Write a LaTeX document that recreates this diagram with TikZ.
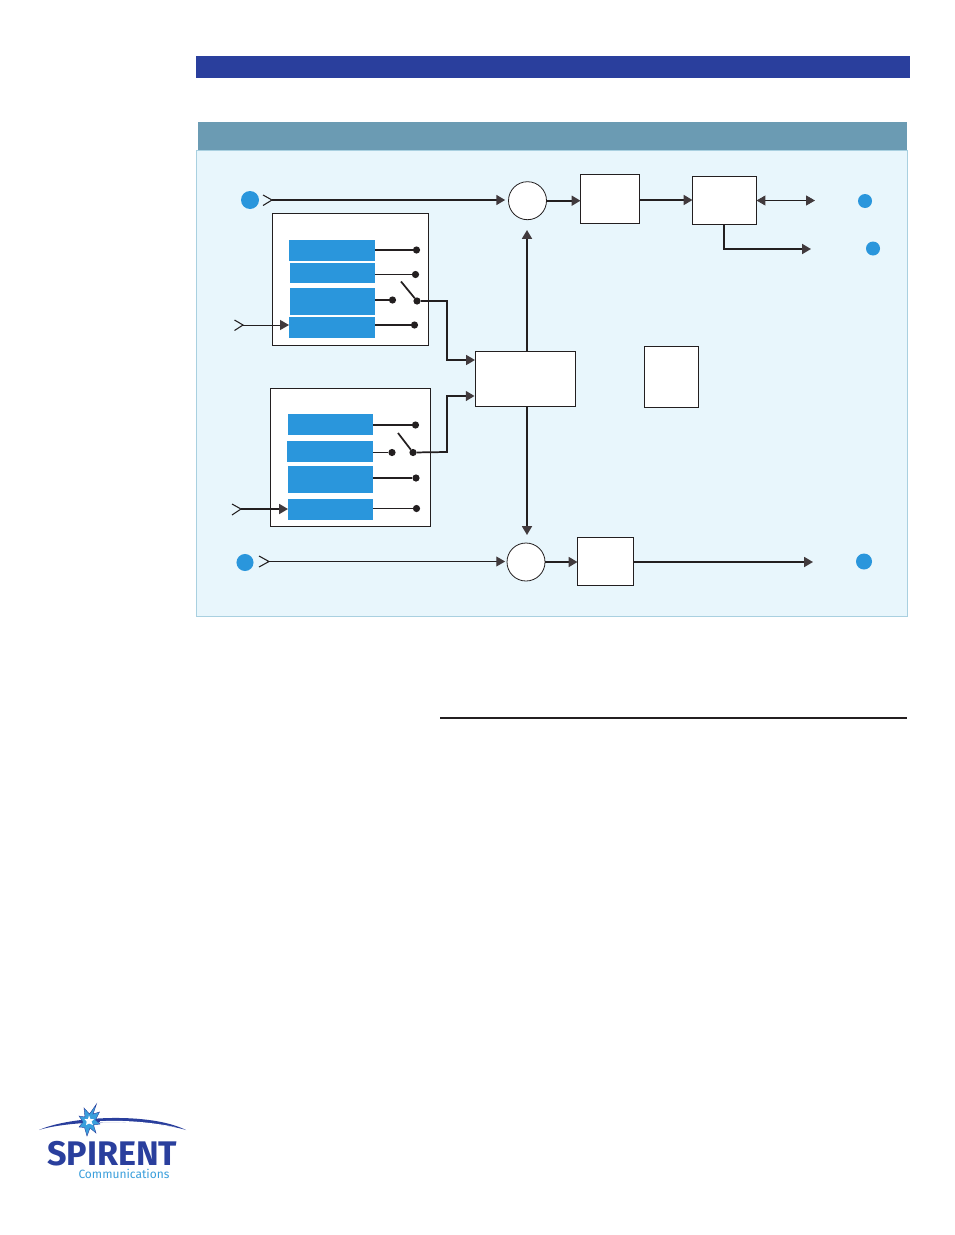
\documentclass[tikz,border=0pt]{standalone}
\usepackage{fontspec}
\setmainfont{Fira Sans}
\newfontfamily\logofont{Fira Sans}
\usetikzlibrary{arrows.meta}
\definecolor{barblue}{HTML}{2A3F9D}
\definecolor{headteal}{HTML}{6B9BB3}
\definecolor{panelfill}{HTML}{E8F6FC}
\definecolor{panelline}{HTML}{A9D0E0}
\definecolor{inkdark}{HTML}{231F20}
\definecolor{tipdark}{HTML}{413A3D}
\definecolor{fifoblue}{HTML}{2A96DC}
\definecolor{logolight}{HTML}{3A9FDC}
\tikzset{
  x=0.75pt,y=-0.75pt,
  plain/.style={inner sep=0pt,outer sep=0pt},
  solidbar/.style={plain,fill=barblue},
  headbar/.style={plain,fill=headteal},
  panel/.style={plain,fill=panelfill,draw=panelline,line width=0.6pt},
  whitebox/.style={plain,fill=white,draw=inkdark,line width=0.75pt},
  fifo/.style={plain,fill=fifoblue},
  mixer/.style={plain,circle,fill=white,draw=inkdark,line width=0.6pt,minimum size=28.5pt},
  port/.style={plain,circle,fill=fifoblue},
  contact/.style={plain,circle,fill=inkdark,minimum size=5.4pt},
  thick line/.style={draw=inkdark,line width=1.3pt},
  thin line/.style={draw=inkdark,line width=0.65pt},
  arrowed/.style={-{Triangle[length=6.6pt,width=7.4pt,color=tipdark]}},
  chevron/.style={draw=inkdark,line width=0.8pt},
}
\newcommand{\rectnode}[6]{\node[#1,minimum width={(#5-#3)*0.75pt},minimum height={(#6-#4)*0.75pt}] (#2) at ({(#3+#5)/2},{(#4+#6)/2}) {};}
\begin{document}
\begin{tikzpicture}
\useasboundingbox (0,0) rectangle (954,1235);
\fill[white] (0,0) rectangle (954,1235);
% page furniture
\rectnode{solidbar}{topbar}{196}{56}{910}{78}
\rectnode{panel}{panelbox}{196.5}{150}{907.5}{616}
\rectnode{headbar}{headerbar}{198}{122}{907}{150}
% upper block
\rectnode{whitebox}{blockA}{272.5}{213.5}{428.5}{345.5}
\rectnode{fifo}{a1}{289}{240}{375}{261}
\rectnode{fifo}{a2}{290}{263}{375}{283}
\rectnode{fifo}{a3}{290}{288}{375}{315}
\rectnode{fifo}{a4}{289}{317}{375}{338}
\node[contact] (ca1) at (416.5,250) {};
\node[contact] (ca2) at (415.5,274.5) {};
\node[contact] (ca3) at (392.5,300) {};
\node[contact] (ca4) at (414.5,325) {};
\node[contact] (swa) at (417,301) {};
\coordinate (swaopen) at (401,281.5);
\draw[thick line] (a1.east |- ca1) -- (ca1);
\draw[thin line] (a2.east |- ca2) -- (ca2);
\draw[thick line] (a3.east |- ca3) -- (ca3);
\draw[thick line] (a4.east |- ca4) -- (ca4);
\draw[thick line] (swaopen) -- (swa);
% lower block
\rectnode{whitebox}{blockB}{270.5}{388.5}{430.5}{526.5}
\rectnode{fifo}{b1}{288}{414}{373}{435}
\rectnode{fifo}{b2}{287}{441}{373}{462}
\rectnode{fifo}{b3}{288}{466}{373}{493}
\rectnode{fifo}{b4}{288}{499}{373}{520}
\node[contact] (cb1) at (415.5,425) {};
\node[contact] (cb2) at (392,452.5) {};
\node[contact] (cb3) at (416,478) {};
\node[contact] (cb4) at (416.5,508.5) {};
\node[contact] (swb) at (413,452.5) {};
\coordinate (swbopen) at (398,433);
\draw[thick line] (b1.east |- cb1) -- (cb1);
\draw[thin line] (b2.east |- cb2) -- (cb2);
\draw[thick line] (b3.east |- cb3) -- (cb3);
\draw[thin line] (b4.east |- cb4) -- (cb4);
\draw[thick line] (swbopen) -- (swb);
% main boxes
\node[mixer] (mixtop) at (527.5,200.7) {};
\node[mixer] (mixbot) at (526,562) {};
\rectnode{whitebox}{boxone}{580.5}{174.5}{639.5}{223.5}
\rectnode{whitebox}{boxtwo}{692.5}{176.5}{756.5}{224.5}
\rectnode{whitebox}{ctrl}{475.5}{351.5}{575.5}{406.5}
\rectnode{whitebox}{lone}{644.5}{346.5}{698.5}{407.5}
\rectnode{whitebox}{boxbot}{577.5}{537}{633.5}{585.5}
% ports
\node[port,minimum size=13.5pt] (pin1) at (250,200) {};
\node[port,minimum size=12.8pt] (pin2) at (245,562.5) {};
\node[port,minimum size=10.5pt] (pout1) at (865,201) {};
\node[port,minimum size=10.5pt] (pout2) at (873,248.5) {};
\node[port,minimum size=12pt] (pout3) at (864,561.5) {};
% input chevrons
\coordinate (ch1) at (272,200);
\coordinate (ch2) at (243,325);
\coordinate (ch3) at (241,509);
\coordinate (ch4) at (269,561.5);
\draw[chevron] (263,195) -- (ch1) -- (263,205.5);
\draw[chevron] (234.5,320) -- (ch2) -- (234.5,330.5);
\draw[chevron] (232,504) -- (ch3) -- (232,515);
\draw[chevron] (259,556) -- (ch4) -- (259,567);
% free ends
\coordinate (endA) at (815,200.5);
\coordinate (endB) at (811,249);
\coordinate (endC) at (813,562);
\coordinate (tipup) at (527,230);
\coordinate (tipdown) at (527,535);
% connectors
\draw[thick line,arrowed,shorten >=2.5pt] (ch1) -- (mixtop.west |- ch1);
\draw[thin line,arrowed] (ch2) -- (a4.west |- ch2);
\draw[thick line,arrowed] (ch3) -- (b4.west |- ch3);
\draw[thin line,arrowed,shorten >=1.4pt] (ch4) -- (mixbot.west |- ch4);
\draw[thick line,arrowed,shorten >=0.4pt] (swa) -- (447,301) -- (447,360) -- (ctrl.west |- 0,360);
\draw[thick line,arrowed,shorten >=0.7pt] (swb) -- (447,452) -- (447,396) -- (ctrl.west |- 0,396);
\draw[thick line,arrowed] (mixtop.east) -- (boxone.west |- mixtop.east);
\draw[thick line,arrowed] (boxone.east |- 0,200) -- (boxtwo.west |- 0,200);
\draw[thin line,{Triangle[length=6.6pt,width=7.4pt,color=tipdark]}-{Triangle[length=6.6pt,width=7.4pt,color=tipdark]}] (boxtwo.east |- endA) -- (endA);
\draw[thick line,arrowed] (724,224.5) -- (724,249) -- (endB);
\draw[thick line,arrowed] (ctrl.north -| tipup) -- (tipup);
\draw[thick line,arrowed] (ctrl.south -| tipdown) -- (tipdown);
\draw[thick line,arrowed] (mixbot.east) -- (boxbot.west |- mixbot.east);
\draw[thick line,arrowed] (boxbot.east |- endC) -- (endC);
% rule
\coordinate (ruleL) at (440,718);
\coordinate (ruleR) at (907,718);
\draw[draw=inkdark,line width=1.5pt] (ruleL) -- (ruleR);
% logo
\fill[barblue] (39,1130) .. controls (70,1116) and (150,1112) .. (186,1130) .. controls (150,1119) and (70,1120) .. (39,1130) -- cycle;
\fill[white] (100,1121.2) .. controls (125,1120) and (150,1122) .. (175,1127) .. controls (150,1124) and (125,1122) .. (100,1122.2) -- cycle;
\fill[logolight,draw=barblue,line width=0.3pt] (96.5,1104) -- (93,1114) -- (99.5,1112) -- (95.5,1120) -- (100,1124) -- (93.5,1125) -- (96,1133) -- (90,1128) -- (87,1136) -- (84.5,1127.5) -- (79,1127) -- (83,1122) -- (79,1116) -- (85,1117) -- (84,1108) -- (89.5,1114) -- cycle;
\fill[white] (89,1115.5) -- (90.5,1119) -- (94,1119) -- (91.5,1121.5) -- (93,1125) -- (89,1123.5) -- (86,1125) -- (86.7,1121.5) -- (84.5,1119) -- (88,1119) -- cycle;
\node[plain,text=barblue,anchor=base west] (logoname) at (47,1165) {\fontsize{25.6}{25.6}\logofont\fontseries{sb}\selectfont SPIRENT};
\node[plain,text=logolight,anchor=base west] (logosub) at (78.5,1178) {\fontsize{9}{9}\selectfont\logofont Communications};
\end{tikzpicture}
\end{document}
